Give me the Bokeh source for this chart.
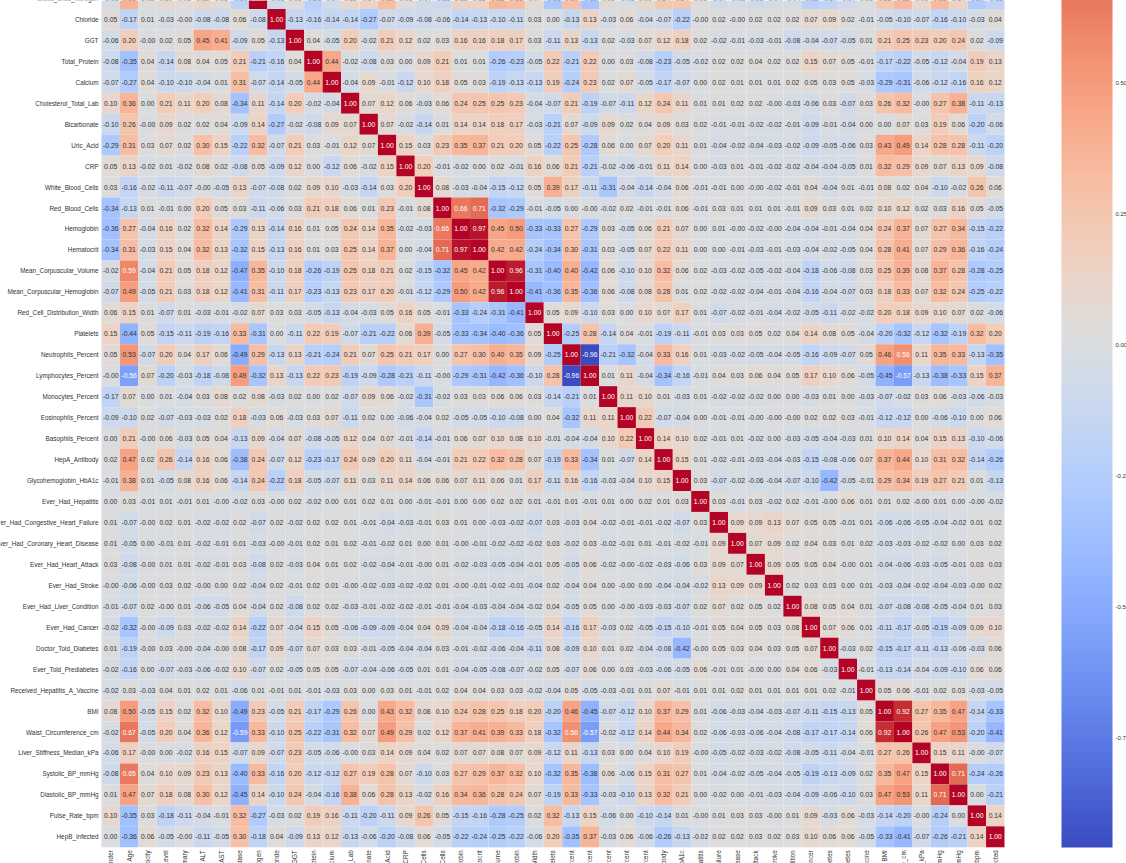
import numpy as np
from bokeh.embed import file_html
from bokeh.resources import INLINE
from bokeh.plotting import figure
from bokeh.models import ColumnDataSource, LinearColorMapper, ColorBar, FixedTicker, Label, LinearAxis, NumeralTickFormatter
from bokeh.core.properties import value

names = ["Gender","Age","Ethnicity","Education_Level","Income_Summary","ALT","AST","Alkaline_Phosphatase","Blood_Urea_Nitrogen",
"Chloride","GGT","Total_Protein","Calcium","Cholesterol_Total_Lab","Bicarbonate","Uric_Acid","CRP","White_Blood_Cells",
"Red_Blood_Cells","Hemoglobin","Hematocrit","Mean_Corpuscular_Volume","Mean_Corpuscular_Hemoglobin","Red_Cell_Distribution_Width",
"Platelets","Neutrophils_Percent","Lymphocytes_Percent","Monocytes_Percent","Eosinophils_Percent","Basophils_Percent","HepA_Antibody",
"Glycohemoglobin_HbA1c","Ever_Had_Hepatitis","Ever_Had_Congestive_Heart_Failure","Ever_Had_Coronary_Heart_Disease","Ever_Had_Heart_Attack",
"Ever_Had_Stroke","Ever_Had_Liver_Condition","Ever_Had_Cancer","Doctor_Told_Diabetes","Ever_Told_Prediabetes","Received_Hepatitis_A_Vaccine",
"BMI","Waist_Circumference_cm","Liver_Stiffness_Median_kPa","Systolic_BP_mmHg","Diastolic_BP_mmHg","Pulse_Rate_bpm","HepB_Infected"]

r08 = [-0.03,0.38,0.02,0.10,0.05,0.12,0.05,-0.20,1.00,-0.08,0.05,-0.21,-0.07,0.11,0.14,0.32,0.05,-0.07,-0.11,0.13,0.15,0.35,0.31,0.07,-0.31,0.29,-0.32,0.08,-0.03,0.09,0.24,0.24,0.03,-0.07,-0.03,-0.08,-0.04,-0.04,-0.22,-0.17,-0.07,0.01,0.23,0.33,0.09,0.33,0.14,-0.27,-0.18]
r09 = [0.05,-0.17,0.01,-0.03,-0.00,-0.08,-0.08,0.06,-0.08,1.00,-0.13,-0.16,-0.14,-0.14,-0.27,-0.07,-0.09,-0.08,-0.06,-0.14,-0.13,-0.10,-0.11,0.03,0.00,-0.13,0.13,-0.03,0.06,-0.04,-0.07,-0.22,-0.00,0.02,-0.00,0.02,0.02,0.02,0.07,0.09,0.02,-0.01,-0.05,-0.10,-0.07,-0.16,-0.10,-0.03,0.04]
r10 = [-0.06,0.20,-0.00,0.02,0.05,0.45,0.41,-0.09,0.05,-0.13,1.00,0.04,-0.05,0.20,-0.02,0.21,0.12,0.02,0.03,0.16,0.16,0.18,0.17,0.03,-0.11,0.13,-0.13,0.02,-0.03,0.07,0.12,0.18,0.02,-0.02,-0.01,-0.03,-0.01,-0.08,-0.04,-0.07,-0.05,0.01,0.21,0.25,0.23,0.20,0.24,0.02,-0.09]
r11 = [-0.08,-0.35,0.04,-0.14,0.08,0.04,0.05,0.21,-0.21,-0.16,0.04,1.00,0.44,-0.02,-0.08,0.03,0.00,0.09,0.21,0.01,0.01,-0.26,-0.23,-0.05,0.22,-0.21,0.22,0.00,0.03,-0.08,-0.23,-0.05,-0.02,0.02,0.02,0.04,0.02,0.02,0.15,0.07,0.05,-0.01,-0.17,-0.22,-0.05,-0.12,-0.04,0.19,0.13]
r12 = [-0.07,-0.27,0.04,-0.10,-0.10,-0.04,0.01,0.31,-0.07,-0.14,-0.05,0.44,1.00,-0.04,0.09,-0.01,-0.12,0.10,0.18,0.05,0.03,-0.19,-0.13,-0.13,0.19,-0.24,0.23,0.02,0.07,-0.05,-0.17,-0.07,0.00,0.02,0.01,0.01,0.01,0.02,0.05,0.03,0.05,-0.03,-0.29,-0.31,-0.06,-0.12,-0.16,0.16,0.12]
r13 = [0.10,0.36,0.00,0.21,0.11,0.20,0.08,-0.34,0.11,-0.14,0.20,-0.02,-0.04,1.00,0.07,0.12,0.06,-0.03,0.06,0.24,0.25,0.25,0.23,-0.04,-0.07,0.21,-0.19,-0.07,-0.11,0.12,0.24,0.11,0.01,0.01,0.02,0.02,-0.00,-0.03,-0.06,0.03,-0.07,0.03,0.26,0.32,-0.00,0.27,0.38,-0.11,-0.13]
r14 = [-0.10,0.26,-0.00,0.09,0.02,0.02,0.04,-0.09,0.14,-0.27,-0.02,-0.08,0.09,0.07,1.00,0.07,-0.02,-0.14,0.01,0.14,0.14,0.18,0.17,-0.03,-0.21,0.07,-0.09,0.09,0.02,0.04,0.09,0.03,0.02,-0.01,-0.01,-0.02,-0.02,-0.01,-0.09,-0.01,-0.04,0.00,0.00,0.07,0.03,0.19,0.06,-0.20,-0.06]
r15 = [-0.29,0.31,0.03,0.07,0.02,0.30,0.15,-0.22,0.32,-0.07,0.21,0.03,-0.01,0.12,0.07,1.00,0.15,0.03,0.23,0.35,0.37,0.21,0.20,0.05,-0.22,0.25,-0.28,0.06,0.00,0.07,0.20,0.11,0.01,-0.04,-0.02,-0.04,-0.03,-0.02,-0.09,-0.05,-0.06,0.03,0.43,0.49,0.14,0.28,0.28,-0.11,-0.20]
r16 = [0.05,0.13,-0.02,0.01,-0.02,0.08,0.02,-0.08,0.05,-0.09,0.12,0.00,-0.12,0.06,-0.02,0.15,1.00,0.20,-0.01,-0.02,0.00,0.02,-0.01,0.16,0.06,0.21,-0.21,-0.02,-0.06,-0.01,0.11,0.14,0.00,-0.03,0.01,-0.01,-0.02,-0.02,-0.04,-0.04,-0.05,0.01,0.32,0.29,0.09,0.07,0.13,0.09,-0.08]
r17 = [0.03,-0.16,-0.02,-0.11,-0.07,-0.00,-0.05,0.13,-0.07,-0.08,0.02,0.09,0.10,-0.03,-0.14,0.03,0.20,1.00,0.08,-0.03,-0.04,-0.15,-0.12,0.05,0.39,0.17,-0.11,-0.31,-0.04,-0.14,-0.04,0.06,-0.01,-0.01,0.00,-0.00,-0.02,-0.01,0.04,-0.04,0.01,-0.01,0.08,0.02,0.04,-0.10,-0.02,0.26,0.06]
r18 = [-0.34,-0.13,0.01,-0.01,0.00,0.20,0.05,0.03,-0.11,-0.06,0.03,0.21,0.18,0.06,0.01,0.23,-0.01,0.08,1.00,0.66,0.71,-0.32,-0.29,-0.01,-0.05,0.00,-0.00,-0.02,0.02,-0.01,-0.01,0.06,-0.01,0.03,0.01,0.01,0.01,-0.01,0.09,0.03,0.01,0.02,0.10,0.12,0.02,0.03,0.16,0.05,-0.05]
r19 = [-0.36,0.27,-0.04,0.16,0.02,0.32,0.14,-0.29,0.13,-0.14,0.16,0.01,0.05,0.24,0.14,0.35,-0.02,-0.03,0.66,1.00,0.97,0.45,0.50,-0.33,-0.33,0.27,-0.29,0.03,-0.05,0.06,0.21,0.07,0.00,0.01,-0.00,-0.02,-0.00,-0.04,-0.04,-0.01,-0.04,0.04,0.24,0.37,0.07,0.27,0.34,-0.15,-0.22]
r20 = [-0.34,0.31,-0.03,0.15,0.04,0.32,0.13,-0.32,0.15,-0.13,0.16,0.01,0.03,0.25,0.14,0.37,0.00,-0.04,0.71,0.97,1.00,0.42,0.42,-0.24,-0.34,0.30,-0.31,0.03,-0.05,0.07,0.22,0.11,0.00,0.00,-0.01,-0.03,-0.01,-0.03,-0.04,-0.02,-0.05,0.04,0.28,0.41,0.07,0.29,0.36,-0.16,-0.24]
r21 = [-0.02,0.59,-0.04,0.21,0.05,0.18,0.12,-0.47,0.35,-0.10,0.18,-0.26,-0.19,0.25,0.18,0.21,0.02,-0.15,-0.32,0.45,0.42,1.00,0.96,-0.31,-0.40,0.40,-0.42,0.06,-0.10,0.10,0.32,0.06,0.02,-0.03,-0.02,-0.05,-0.02,-0.04,-0.18,-0.06,-0.08,0.03,0.25,0.39,0.08,0.37,0.28,-0.28,-0.25]
r22 = [-0.07,0.49,-0.05,0.21,0.03,0.18,0.12,-0.41,0.31,-0.11,0.17,-0.23,-0.13,0.23,0.17,0.20,-0.01,-0.12,-0.29,0.50,0.42,0.96,1.00,-0.41,-0.36,0.35,-0.36,0.06,-0.08,0.08,0.28,0.01,0.02,-0.02,-0.02,-0.04,-0.01,-0.04,-0.16,-0.04,-0.07,0.03,0.18,0.33,0.07,0.32,0.24,-0.25,-0.22]
r23 = [0.06,0.15,0.01,-0.07,0.01,-0.03,-0.01,-0.02,0.07,0.03,0.03,-0.05,-0.13,-0.04,-0.03,0.05,0.16,0.05,-0.01,-0.33,-0.24,-0.31,-0.41,1.00,0.05,0.09,-0.10,0.03,0.00,0.10,0.07,0.17,0.01,-0.07,-0.02,-0.01,-0.04,-0.02,-0.05,-0.11,-0.02,-0.02,0.20,0.18,0.09,0.10,0.07,0.02,-0.06]
r24 = [0.15,-0.44,0.05,-0.15,-0.11,-0.19,-0.16,0.33,-0.31,0.00,-0.11,0.22,0.19,-0.07,-0.21,-0.22,0.06,0.39,-0.05,-0.33,-0.34,-0.40,-0.36,0.05,1.00,-0.25,0.28,-0.14,0.04,-0.01,-0.19,-0.11,-0.01,0.03,0.03,0.05,0.02,0.04,0.14,0.08,0.05,-0.04,-0.20,-0.32,-0.12,-0.32,-0.19,0.32,0.20]
r25 = [0.05,0.53,-0.07,0.20,0.04,0.17,0.06,-0.49,0.29,-0.13,0.13,-0.21,-0.24,0.21,0.07,0.25,0.21,0.17,0.00,0.27,0.30,0.40,0.35,0.09,-0.25,1.00,-0.96,-0.21,-0.32,-0.04,0.33,0.16,0.01,-0.03,-0.02,-0.05,-0.04,-0.05,-0.16,-0.09,-0.07,0.05,0.46,0.56,0.11,0.35,0.33,-0.13,-0.35]
r26 = [-0.00,-0.56,0.07,-0.20,-0.03,-0.18,-0.08,0.49,-0.32,0.13,-0.13,0.22,0.23,-0.19,-0.09,-0.28,-0.21,-0.11,-0.00,-0.29,-0.31,-0.42,-0.36,-0.10,0.28,-0.96,1.00,0.01,0.11,-0.04,-0.34,-0.16,-0.01,0.04,0.03,0.06,0.04,0.05,0.17,0.10,0.06,-0.05,-0.45,-0.57,-0.13,-0.38,-0.33,0.15,0.37]
r27 = [-0.17,0.07,0.00,0.01,-0.04,0.03,0.08,0.02,0.08,-0.03,0.02,0.00,0.02,-0.07,0.09,0.06,-0.02,-0.31,-0.02,0.03,0.03,0.06,0.06,0.03,-0.14,-0.21,0.01,1.00,0.11,0.10,0.01,-0.03,0.01,-0.02,-0.02,-0.02,0.00,0.00,-0.03,0.01,0.00,-0.03,-0.07,-0.02,0.03,0.06,-0.03,-0.06,-0.03]
r28 = [-0.09,-0.10,0.02,-0.07,-0.03,-0.03,0.02,0.18,-0.03,0.06,-0.03,0.03,0.07,-0.11,0.02,0.00,-0.06,-0.04,0.02,-0.05,-0.05,-0.10,-0.08,0.00,0.04,-0.32,0.11,0.11,1.00,0.22,-0.07,-0.04,0.00,-0.01,-0.01,-0.00,-0.00,-0.00,0.02,0.02,0.03,-0.01,-0.12,-0.12,0.00,-0.06,-0.10,0.00,0.06]
r29 = [0.00,0.21,-0.00,0.06,-0.03,0.05,0.04,-0.13,0.09,-0.04,0.07,-0.08,-0.05,0.12,0.04,0.07,-0.01,-0.14,-0.01,0.06,0.07,0.10,0.08,0.10,-0.01,-0.04,-0.04,0.10,0.22,1.00,0.14,0.10,0.02,-0.01,0.01,-0.02,0.00,-0.03,-0.05,-0.04,-0.03,0.01,0.10,0.14,0.04,0.15,0.13,-0.10,-0.06]
r30 = [0.02,0.47,0.02,0.26,-0.14,0.16,0.06,-0.38,0.24,-0.07,0.12,-0.23,-0.17,0.24,0.09,0.20,0.11,-0.04,-0.01,0.21,0.22,0.32,0.28,0.07,-0.19,0.33,-0.34,0.01,-0.07,0.14,1.00,0.15,0.01,-0.02,-0.01,-0.03,-0.04,-0.03,-0.15,-0.08,-0.06,0.07,0.37,0.44,0.10,0.31,0.32,-0.14,-0.26]
r31 = [-0.01,0.38,0.01,-0.05,0.08,0.16,0.06,-0.14,0.24,-0.22,0.18,-0.05,-0.07,0.11,0.03,0.11,0.14,0.06,0.06,0.07,0.11,0.06,0.01,0.17,-0.11,0.16,-0.16,-0.03,-0.04,0.10,0.15,1.00,0.03,-0.07,-0.02,-0.06,-0.04,-0.07,-0.10,-0.42,-0.05,-0.01,0.29,0.34,0.19,0.27,0.21,0.01,-0.13]
r32 = [0.00,0.03,-0.01,0.01,-0.01,0.01,-0.00,-0.02,0.03,-0.00,0.02,-0.02,0.00,0.01,0.02,0.01,0.00,-0.01,-0.01,0.00,0.00,0.02,0.02,0.01,-0.01,0.01,-0.01,0.01,0.00,0.02,0.01,0.03,1.00,0.03,-0.01,0.03,-0.02,0.02,-0.01,-0.00,0.06,0.01,0.01,0.02,-0.00,0.01,0.00,-0.00,-0.02]
r33 = [0.01,-0.07,-0.00,0.02,0.01,-0.02,-0.02,0.02,-0.07,0.02,-0.02,0.02,0.02,0.01,-0.01,-0.04,-0.03,-0.01,0.03,0.01,0.00,-0.03,-0.02,-0.07,0.03,-0.03,0.04,-0.02,-0.01,-0.01,-0.02,-0.07,0.03,1.00,0.09,0.09,0.13,0.07,0.05,0.05,-0.01,0.01,-0.06,-0.06,-0.05,-0.04,-0.02,0.01,0.02]
r34 = [0.01,-0.05,0.00,-0.01,0.01,-0.02,-0.01,0.01,-0.03,-0.00,-0.01,0.02,0.01,0.02,-0.01,-0.02,0.01,0.00,0.01,-0.00,-0.01,-0.02,-0.02,-0.02,0.03,-0.02,0.03,-0.02,-0.01,0.01,-0.01,-0.02,-0.01,0.09,1.00,0.07,0.09,0.02,0.04,0.03,0.01,0.02,-0.03,-0.03,-0.02,-0.02,0.00,0.03,0.02]
r35 = [0.03,-0.08,-0.00,0.01,0.01,-0.02,-0.01,0.03,-0.08,0.02,-0.03,0.04,0.01,0.02,-0.02,-0.04,-0.01,-0.00,0.01,-0.02,-0.03,-0.05,-0.04,-0.01,0.05,-0.05,0.06,-0.02,-0.00,-0.02,-0.03,-0.06,0.03,0.09,0.07,1.00,0.09,0.05,0.05,0.04,-0.00,0.01,-0.04,-0.06,-0.03,-0.05,-0.01,0.03,0.03]
r36 = [-0.00,-0.06,-0.00,0.03,0.02,-0.00,0.00,0.02,-0.04,0.02,-0.01,0.02,0.01,-0.00,-0.02,-0.03,-0.02,-0.02,0.01,-0.00,-0.01,-0.02,-0.01,-0.04,0.02,-0.04,0.04,0.00,-0.00,0.00,-0.04,-0.04,-0.02,0.13,0.09,0.09,1.00,0.02,0.03,0.03,0.00,0.01,-0.03,-0.04,-0.02,-0.04,-0.03,-0.00,0.02]
r37 = [-0.01,-0.07,0.02,-0.00,0.01,-0.06,-0.05,0.04,-0.04,0.02,-0.08,0.02,0.02,-0.03,-0.01,-0.02,-0.02,-0.01,-0.01,-0.04,-0.03,-0.04,-0.04,-0.02,0.04,-0.05,0.05,0.00,-0.00,-0.03,-0.03,-0.07,0.02,0.07,0.02,0.05,0.02,1.00,0.08,0.05,0.04,0.01,-0.07,-0.08,-0.08,-0.05,-0.04,0.01,0.03]
r38 = [-0.02,-0.32,-0.00,-0.09,0.03,-0.02,-0.02,0.14,-0.22,0.07,-0.04,0.15,0.05,-0.06,-0.09,-0.09,-0.04,0.04,0.09,-0.04,-0.04,-0.18,-0.16,-0.05,0.14,-0.16,0.17,-0.03,0.02,-0.05,-0.15,-0.10,-0.01,0.05,0.04,0.05,0.03,0.08,1.00,0.07,0.06,0.01,-0.11,-0.17,-0.05,-0.19,-0.09,0.09,0.10]
r39 = [0.01,-0.19,-0.00,0.03,-0.00,-0.04,-0.00,0.08,-0.17,0.09,-0.07,0.07,0.03,0.03,-0.01,-0.05,-0.04,-0.04,0.03,-0.01,-0.02,-0.06,-0.04,-0.11,0.08,-0.09,0.10,0.01,0.02,-0.04,-0.08,-0.42,-0.00,0.05,0.03,0.04,0.03,0.05,0.07,1.00,-0.03,0.02,-0.15,-0.17,-0.11,-0.13,-0.06,-0.03,0.06]
r40 = [-0.02,-0.16,0.00,-0.07,-0.03,-0.06,-0.02,0.10,-0.07,0.02,-0.05,0.05,0.05,-0.07,-0.04,-0.06,-0.05,0.01,0.01,-0.04,-0.05,-0.08,-0.07,-0.02,0.05,-0.07,0.06,0.00,0.03,-0.03,-0.06,-0.05,0.06,-0.01,0.01,-0.00,0.00,0.04,0.06,-0.03,1.00,-0.01,-0.13,-0.14,-0.04,-0.09,-0.10,0.06,0.06]
r41 = [-0.02,0.03,-0.03,0.04,0.01,0.02,0.01,-0.06,0.01,-0.01,0.01,-0.01,-0.03,0.03,0.00,0.03,0.01,-0.01,0.02,0.04,0.04,0.03,0.03,-0.02,-0.04,0.05,-0.05,-0.03,-0.01,0.01,0.07,-0.01,0.01,0.01,0.02,0.01,0.01,0.01,0.01,0.02,-0.01,1.00,0.05,0.06,-0.01,0.02,0.03,-0.03,-0.05]
r42 = [0.08,0.50,-0.05,0.15,0.02,0.32,0.10,-0.49,0.23,-0.05,0.21,-0.17,-0.29,0.26,0.00,0.43,0.32,0.08,0.10,0.24,0.28,0.25,0.18,0.20,-0.20,0.46,-0.45,-0.07,-0.12,0.10,0.37,0.29,0.01,-0.06,-0.03,-0.04,-0.03,-0.07,-0.11,-0.15,-0.13,0.05,1.00,0.92,0.27,0.35,0.47,-0.14,-0.33]
r43 = [-0.02,0.67,-0.05,0.20,0.04,0.36,0.12,-0.59,0.33,-0.10,0.25,-0.22,-0.31,0.32,0.07,0.49,0.29,0.02,0.12,0.37,0.41,0.39,0.33,0.18,-0.32,0.56,-0.57,-0.02,-0.12,0.14,0.44,0.34,0.02,-0.06,-0.03,-0.06,-0.04,-0.08,-0.17,-0.17,-0.14,0.06,0.92,1.00,0.26,0.47,0.53,-0.20,-0.41]
r44 = [-0.06,0.17,-0.00,0.00,-0.02,0.16,0.15,-0.07,0.09,-0.07,0.23,-0.05,-0.06,-0.00,0.03,0.14,0.09,0.04,0.02,0.07,0.07,0.08,0.07,0.09,-0.12,0.11,-0.13,0.03,0.00,0.04,0.10,0.19,-0.00,-0.05,-0.02,-0.03,-0.02,-0.08,-0.05,-0.11,-0.04,-0.01,0.27,0.26,1.00,0.15,0.11,-0.00,-0.07]
r45 = [-0.08,0.65,0.04,0.10,0.09,0.23,0.13,-0.40,0.33,-0.16,0.20,-0.12,-0.12,0.27,0.19,0.28,0.07,-0.10,0.03,0.27,0.29,0.37,0.32,0.10,-0.32,0.35,-0.38,0.06,-0.06,0.15,0.31,0.27,0.01,-0.04,-0.02,-0.05,-0.04,-0.05,-0.19,-0.13,-0.09,0.02,0.35,0.47,0.15,1.00,0.71,-0.24,-0.26]
r46 = [0.01,0.47,0.07,0.18,0.08,0.30,0.12,-0.45,0.14,-0.10,0.24,-0.04,-0.16,0.38,0.06,0.28,0.13,-0.02,0.16,0.34,0.36,0.28,0.24,0.07,-0.19,0.33,-0.33,-0.03,-0.10,0.13,0.32,0.21,0.00,-0.02,0.00,-0.01,-0.03,-0.04,-0.09,-0.06,-0.10,0.03,0.47,0.53,0.11,0.71,1.00,0.00,-0.21]
r47 = [0.10,-0.35,0.03,-0.18,-0.11,-0.04,-0.01,0.32,-0.27,-0.03,0.02,0.19,0.16,-0.11,-0.20,-0.11,0.09,0.26,0.05,-0.15,-0.16,-0.28,-0.25,0.02,0.32,-0.13,0.15,-0.06,0.00,-0.10,-0.14,0.01,-0.00,0.01,0.03,0.03,-0.00,0.01,0.09,-0.03,0.06,-0.03,-0.14,-0.20,-0.00,-0.24,0.00,1.00,0.14]
r48 = [0.00,-0.36,0.06,-0.05,-0.00,-0.11,-0.05,0.30,-0.18,0.04,-0.09,0.13,0.12,-0.13,-0.06,-0.20,-0.08,0.06,-0.05,-0.22,-0.24,-0.25,-0.22,-0.06,0.20,-0.35,0.37,-0.03,0.06,-0.06,-0.26,-0.13,-0.02,0.02,0.02,0.03,0.02,0.03,0.10,0.06,0.06,-0.05,-0.33,-0.41,-0.07,-0.26,-0.21,0.14,1.00]

rows = [r08,r09,r10,r11,r12,r13,r14,r15,r16,r17,r18,r19,r20,r21,r22,r23,r24,r25,r26,r27,r28,r29,r30,r31,r32,r33,r34,r35,r36,r37,r38,r39,r40,r41,r42,r43,r44,r45,r46,r47,r48]
first_row = 8
vmin, vmax = -0.96, 1.0
cb_ticks = [-0.75,-0.5,-0.25,0.0,0.25,0.5]

# matplotlib "coolwarm" anchors
cw_r = [0.2298057,0.26623388,0.30386891,0.342804478,0.38301334,0.424369608,0.46666708,0.509635204,0.552953156,0.596262162,0.639176211,0.681291281,0.722193294,0.761464949,0.798691636,0.833466556,0.865395197,0.897787179,0.924127593,0.944468518,0.958852946,0.96732803,0.969954137,0.966811177,0.958003065,0.943660866,0.923944917,0.89904617,0.869186849,0.834620542,0.795631745,0.752534934,0.705673158]
cw_g = [0.298717966,0.353094838,0.406535296,0.458757618,0.50941904,0.558148092,0.604562568,0.648280772,0.688929332,0.726149107,0.759599947,0.788964712,0.813952739,0.834302879,0.849786142,0.860207984,0.86541021,0.848937047,0.827384882,0.800927443,0.769767752,0.734132809,0.694266682,0.650421156,0.602842431,0.551750968,0.49730856,0.439559467,0.378313092,0.312874446,0.24128379,0.157246067,0.01555616]
cw_b = [0.753683153,0.801466763,0.84495867,0.883725899,0.917387822,0.945619588,0.968154911,0.98478814,0.995375608,0.999836203,0.998151185,0.990363227,0.976574709,0.956945269,0.931688648,0.901068838,0.865395561,0.820880546,0.774508472,0.726736146,0.678007945,0.628751763,0.579375448,0.530263762,0.481775914,0.434243684,0.387970225,0.343229596,0.300267182,0.259301199,0.220525627,0.184115123,0.150232812]
nodes = np.linspace(0, 1, 33)
t = np.linspace(0, 1, 256)
rgb = np.stack([np.interp(t, nodes, c) for c in (cw_r, cw_g, cw_b)], axis=1)
palette = ["#%02x%02x%02x" % tuple(int(round(v * 255)) for v in c) for c in rgb]
mapper = LinearColorMapper(palette=palette, low=vmin, high=vmax)

DARK = "#333333"
def label_color(v):
    c = rgb[int(np.clip((v - vmin) / (vmax - vmin), 0, 1) * 255)]
    lin = np.where(c <= 0.03928, c / 12.92, ((c + 0.055) / 1.055) ** 2.4)
    return DARK if lin @ np.array([0.2126, 0.7152, 0.0722]) > 0.408 else "#ffffff"

N = len(names)
xs, ys, vals, txt, cols = [], [], [], [], []
for i, row in enumerate(rows):
    for j, v in enumerate(row):
        xs.append(j + 0.5)
        ys.append(N - (first_row + i) - 0.5)
        vals.append(v)
        txt.append(f"{v:.2f}")
        cols.append(label_color(v))
src = ColumnDataSource(dict(x=xs, y=ys, v=vals, t=txt, c=cols))

FONT = "Liberation Sans"
LABEL_SIZE = "6.35px"
W, H = 1126, 863
left_px, right_px, bottom_px = 101.0, 1004.0, 846.8   # heatmap edges in the picture
cell_w = (right_px - left_px) / N
cell_h = 20.96
# the frame fills the whole canvas, so the axes at the heatmap's edges are not clipped away
x_range = (-left_px / cell_w, (W - left_px) / cell_w)
y_range = (-(H - bottom_px) / cell_h, bottom_px / cell_h)

p = figure(width=W, height=H, x_range=x_range, y_range=y_range,
           output_backend="svg", toolbar_location=None,
           min_border_left=0, min_border_right=0, min_border_top=0, min_border_bottom=0,
           outline_line_color=None, x_axis_location=None, y_axis_location=None)
p.styles = {"position": "absolute", "left": "0px", "top": "0px"}
p.grid.visible = False
p.rect("x", "y", width=1, height=1, source=src, line_color=None,
       fill_color={"field": "v", "transform": mapper})
p.text("x", "y", text="t", source=src, text_color="c", text_align="center", text_baseline="middle",
       text_font=value(FONT), text_font_size="6.8px")

y_ticks = [N - i - 0.5 for i in range(first_row + 1, N)]
y_labels = {N - i - 0.5: names[i] for i in range(first_row + 1, N)}
x_ticks = [i + 0.5 for i in range(N)]
x_labels = {i + 0.5: names[i] for i in range(N)}
yax = LinearAxis(ticker=FixedTicker(ticks=y_ticks), fixed_location=0, major_label_overrides=y_labels)
xax = LinearAxis(ticker=FixedTicker(ticks=x_ticks), fixed_location=0, major_label_overrides=x_labels,
                 major_label_orientation=np.pi / 2)
for ax in (xax, yax):
    ax.axis_line_color = None
    ax.major_tick_line_color = None
    ax.minor_tick_line_color = None
    ax.major_tick_out = 0
    ax.major_tick_in = 0
    ax.major_label_standoff = 3
    ax.major_label_text_font = FONT
    ax.major_label_text_font_size = LABEL_SIZE
    ax.major_label_text_color = DARK
p.add_layout(yax, "left")
p.add_layout(xax, "below")

# the row cut by the top of the picture has a tick outside the range
p.add_layout(Label(x=-0.16, y=N - first_row - 0.5, text=names[first_row], text_align="right", text_baseline="middle",
                   text_font=FONT, text_font_size=LABEL_SIZE, text_color=DARK))

cb = ColorBar(color_mapper=mapper, width=51, height=1026, location=(1061, int(H - bottom_px)), padding=0,
              ticker=FixedTicker(ticks=cb_ticks), formatter=NumeralTickFormatter(format="0.00"),
              major_label_text_font=FONT, major_label_text_font_size="6px", major_label_text_color=DARK,
              major_tick_line_color=None, minor_tick_line_color=None, bar_line_color=None,
              border_line_color=None, background_fill_color=None, label_standoff=3)
p.add_layout(cb, "center")

open("out.html", "w").write(file_html(p, INLINE))
